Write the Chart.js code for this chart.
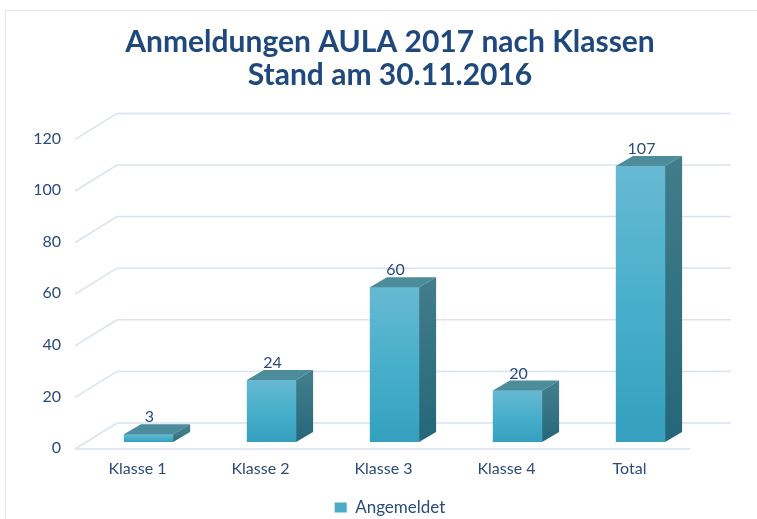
<!DOCTYPE html>
<html>
<head>
<meta charset="utf-8">
<script src="https://cdn.jsdelivr.net/npm/chart.js@4.4.1/dist/chart.umd.min.js"></script>
<style>
  html, body { margin: 0; background: #fff; }
</style>
</head>
<body>
<canvas id="chart" width="757" height="519"></canvas>
<script>
const klassen = ['Klasse 1', 'Klasse 2', 'Klasse 3', 'Klasse 4', 'Total'];
const angemeldet = [3, 24, 60, 20, 107];
const yTicks = [0, 20, 40, 60, 80, 100, 120];

const textColor = '#2b4b7b';
const gridColor = '#d8e2f0';
// 3d depth of the bars (px)
const DX = 17, DY = 10;

const box3d = {
  id: 'box3d',
  beforeDraw(chart) {
    const ctx = chart.ctx;
    ctx.save();
    ctx.fillStyle = '#fff';
    ctx.fillRect(0, 0, chart.width, chart.height);
    ctx.strokeStyle = '#dfe7f3';
    ctx.lineWidth = 1;
    ctx.strokeRect(5.5, 10.5, chart.width, chart.height);
    ctx.restore();
  },
  beforeDatasetsDraw(chart) {
    const { ctx, chartArea: a, scales: { y } } = chart;
    ctx.save();
    ctx.strokeStyle = gridColor;
    ctx.lineWidth = 1.5;
    y.ticks.forEach(t => {
      const p = y.getPixelForValue(t.value);
      ctx.beginPath();
      ctx.moveTo(a.left - 12, p + 7);
      ctx.lineTo(a.left + 30, p - 19);
      ctx.lineTo(a.right + 29, p - 19);
      ctx.stroke();
    });
    // front edge of the floor
    const p0 = y.getPixelForValue(0);
    ctx.beginPath();
    ctx.moveTo(a.left - 12, p0 + 7);
    ctx.lineTo(a.right - 12, p0 + 7);
    ctx.stroke();
    ctx.restore();
  },
  afterDatasetsDraw(chart) {
    const ctx = chart.ctx;
    const meta = chart.getDatasetMeta(0);
    ctx.save();
    meta.data.forEach((bar, i) => {
      const { x, y, base, width } = bar.getProps(['x', 'y', 'base', 'width'], true);
      const l = x - width / 2, r = x + width / 2;

      const front = ctx.createLinearGradient(0, y, 0, base);
      front.addColorStop(0, '#67b9d2');
      front.addColorStop(0.5, '#48afcb');
      front.addColorStop(1, '#34a0be');
      ctx.fillStyle = front;
      ctx.fillRect(l, y, width, base - y);

      ctx.fillStyle = '#4d8c9b';
      ctx.beginPath();
      ctx.moveTo(l, y);
      ctx.lineTo(r, y);
      ctx.lineTo(r + DX, y - DY);
      ctx.lineTo(l + DX, y - DY);
      ctx.closePath();
      ctx.fill();

      const side = ctx.createLinearGradient(0, y, 0, base);
      side.addColorStop(0, '#407c8a');
      side.addColorStop(1, '#246779');
      ctx.fillStyle = side;
      ctx.beginPath();
      ctx.moveTo(r, y);
      ctx.lineTo(r + DX, y - DY);
      ctx.lineTo(r + DX, base - DY);
      ctx.lineTo(r, base);
      ctx.closePath();
      ctx.fill();

      ctx.fillStyle = textColor;
      ctx.font = '16px Lato';
      ctx.textAlign = 'center';
      ctx.textBaseline = 'middle';
      ctx.fillText(angemeldet[i], x + 1, y - 17);
    });
    ctx.restore();
  }
};

const tickFont = { family: 'Lato', size: 16 };

new Chart(document.getElementById('chart'), {
  type: 'bar',
  data: {
    labels: klassen,
    datasets: [{
      label: 'Angemeldet',
      data: angemeldet,
      backgroundColor: '#4aacc6',
      barPercentage: 0.4,
      categoryPercentage: 1
    }]
  },
  options: {
    responsive: false,
    animation: false,
    layout: { padding: { left: 30, right: 7, top: 12, bottom: -7 } },
    plugins: {
      title: {
        display: true,
        text: ['Anmeldungen AULA 2017 nach Klassen', 'Stand am 30.11.2016'],
        color: '#1f497c',
        font: { family: 'Lato', size: 30, weight: 'bold', lineHeight: 1.1 },
        padding: { top: 14, bottom: 40.4 }
      },
      legend: {
        position: 'bottom',
        labels: {
          boxWidth: 12,
          boxHeight: 10,
          color: textColor,
          font: { family: 'Lato', size: 17 },
          padding: 0
        }
      },
      tooltip: { enabled: false }
    },
    scales: {
      x: {
        afterFit(s) { s.height = 57; },
        grid: { display: false, drawTicks: false },
        border: { display: false },
        ticks: { color: textColor, font: tickFont, padding: 17, labelOffset: -11 }
      },
      y: {
        min: 0,
        max: 120,
        afterFit(s) { s.width = 57; },
        afterBuildTicks(s) { s.ticks = yTicks.map(v => ({ value: v })); },
        grid: { display: false, drawTicks: false },
        border: { display: false },
        ticks: { color: textColor, font: tickFont, padding: 26, labelOffset: 6 }
      },
      // empty right axis, only keeps room on the right
      y2: {
        type: 'linear',
        position: 'right',
        afterFit(s) { s.width = 48; },
        ticks: { display: false },
        grid: { display: false, drawTicks: false },
        border: { display: false }
      }
    }
  },
  plugins: [box3d]
});
</script>
</body>
</html>
